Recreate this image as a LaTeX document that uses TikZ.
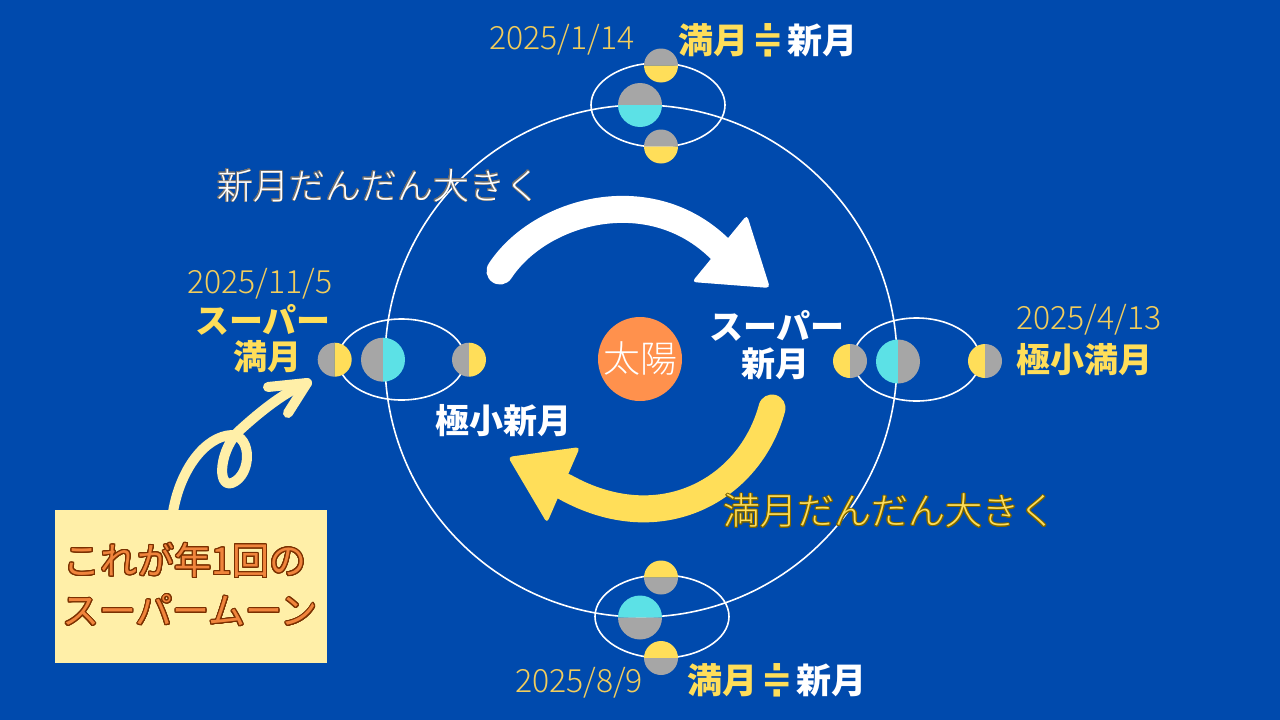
\documentclass[tikz,border=0pt]{standalone}
\usepackage{fontspec}
\usepackage{contour}
\setmainfont{Noto Sans CJK JP}
\newfontfamily\jp{Noto Sans CJK JP}
\IfFontExistsTF{Noto Sans CJK JP Light}
  {\newfontfamily\jpl{Noto Sans CJK JP Light}}
  {\newfontfamily\jpl{Noto Sans CJK JP}}
\newfontfamily\dejavu{DejaVu Sans}
\contournumber{24}
\definecolor{bg}{HTML}{004AAD}
\definecolor{ylw}{HTML}{FFDE59}
\definecolor{dylw}{HTML}{F2CD5C}
\definecolor{cyn}{HTML}{5CE1E6}
\definecolor{gry}{HTML}{A6A6A6}
\definecolor{org}{HTML}{FF914D}
\definecolor{pale}{HTML}{FFEFA8}
\definecolor{boxtxt}{HTML}{F0843C}
\definecolor{boxline}{HTML}{7A3000}
\definecolor{wline}{HTML}{707070}
\definecolor{yline}{HTML}{7A6400}
\newcommand{\fs}[1]{\fontsize{#1}{#1}\selectfont}
\newcommand{\hmoon}[5]{%
  \fill[#4] (#1+#3,#2) arc[start angle=0,end angle=-180,radius=#3] -- cycle;
  \fill[#5] (#1+#3,#2) arc[start angle=0,end angle=180,radius=#3] -- cycle;}
\newcommand{\vmoon}[5]{%
  \fill[#4] (#1,#2+#3) arc[start angle=90,end angle=270,radius=#3] -- cycle;
  \fill[#5] (#1,#2+#3) arc[start angle=90,end angle=-90,radius=#3] -- cycle;}
\newcommand{\approxeq}{\hspace{4pt}\raisebox{1pt}{\scalebox{1.25}[1.3]{\dejavu\bfseries\fs{30}≑}}\hspace{4pt}}
\tikzset{
  orbit/.style={draw=white, line width=1.6pt},
  datelbl/.style={text=dylw, font=\jpl\fs{32}, inner sep=0pt},
  boldlbl/.style={font=\jp\bfseries\fs{34}, inner sep=0pt},
  thinlbl/.style={font=\jpl\fs{36}, inner sep=0pt},
  bigarrow/.style={line width=27pt, line cap=round},
}
\begin{document}
\begin{tikzpicture}[x=1pt,y=-1pt]
\useasboundingbox (0,0) rectangle (1280,720);
\fill[bg] (0,0) rectangle (1280,720);

% big orbit
\draw[orbit] (641,361) circle[radius=256];

% small orbits
\draw[orbit] (658,105) ellipse[x radius=67, y radius=42];
\draw[orbit] (662,616.5) ellipse[x radius=67, y radius=41.5];
\draw[orbit] (401.5,359.5) ellipse[x radius=63.5, y radius=40.5];
\draw[orbit] (916.5,359.5) ellipse[x radius=63.5, y radius=41.5];

% top group
\hmoon{640}{105}{22}{gry}{cyn}
\hmoon{661}{65.5}{17}{gry}{ylw}
\hmoon{661}{146.5}{17}{gry}{ylw}
% bottom group
\hmoon{640}{617.5}{22}{cyn}{gry}
\hmoon{661}{577.5}{17}{ylw}{gry}
\hmoon{661}{658}{17}{ylw}{gry}
% left group
\vmoon{383}{359.7}{22}{gry}{cyn}
\vmoon{334.7}{359.7}{17}{gry}{ylw}
\vmoon{469}{359.7}{17}{gry}{ylw}
% right group
\vmoon{898}{361.5}{22}{cyn}{gry}
\vmoon{850}{361}{17}{ylw}{gry}
\vmoon{985}{361}{17}{ylw}{gry}

% sun
\node[circle, fill=org, minimum size=84pt, inner sep=0pt] (sun) at (640,359) {};
\node[text=white, font=\jpl\fs{37}, inner sep=0pt] (suntxt) at (sun.center) {太陽};

% white arrow
\draw[white, bigarrow] (500,271) .. controls (540,210) and (650,180) .. (720,249);
\fill[white, rounded corners=4pt] (747,215) -- (770,288) -- (692,282) -- cycle;

% yellow arrow
\draw[ylw, bigarrow] (772,408) .. controls (750,490) and (660,540) .. (565,487);
\fill[ylw, rounded corners=4pt] (580,447) -- (508,457) -- (547,523) -- cycle;

% labels
\node[datelbl] (d1) at (562,40) {2025/1/14};
\node[boldlbl, font=\jp\bfseries\fs{35}] (t1) at (768,40) {\textcolor{ylw}{満月\approxeq}\textcolor{white}{新月}};
\node[datelbl] (d2) at (579,683) {2025/8/9};
\node[boldlbl, font=\jp\bfseries\fs{35}] (t2) at (777,680) {\textcolor{ylw}{満月\approxeq}\textcolor{white}{新月}};
\node[datelbl] (d3) at (260,284) {2025/11/5};
\node[boldlbl, text=ylw] (l1) at (263,320) {スーパー};
\node[boldlbl, text=ylw] (l2) at (267,357) {満月};
\node[boldlbl, text=white] (r1) at (777,326) {スーパー};
\node[boldlbl, text=white] (r2) at (775,364) {新月};
\node[datelbl] (d4) at (1089,320) {2025/4/13};
\node[boldlbl, text=ylw] (r3) at (1084,360) {極小満月};
\node[boldlbl, text=white] (c1) at (503,421) {極小新月};

\contourlength{0.7pt}
\node[thinlbl, text=white] (a1) at (379,186) {\contour{wline}{新月だんだん大きく}};
\node[thinlbl, text=ylw, font=\jpl\fs{37}] (a2) at (890,511) {\contour{yline}{満月だんだん大きく}};

% callout box
\node[fill=pale, minimum width=272pt, minimum height=153pt, inner sep=0pt] (box) at (191,586.5) {};
\contourlength{1.1pt}
\node[font=\jp\fs{37}, text=boxtxt, inner sep=0pt] (b1) at (185,561) {\contour{boxline}{これが年1回の}};
\node[font=\jp\fs{37}, text=boxtxt, inner sep=0pt] (b2) at (190,611) {\contour{boxline}{スーパームーン}};

% curly arrow
\coordinate (tip) at (307,383);
\draw[pale, line width=10pt, line cap=round, line join=round]
  (173,512) .. controls (180,470) and (205,436) .. (232,435)
  .. controls (252,436) and (252,475) .. (232,483)
  .. controls (216,488) and (220,448) .. (240,430)
  .. controls (262,410) and (285,392) .. (tip);
\draw[pale, line width=10pt, line cap=round, line join=round]
  (268,387) -- (tip) -- (288,413);
\end{tikzpicture}
\end{document}
